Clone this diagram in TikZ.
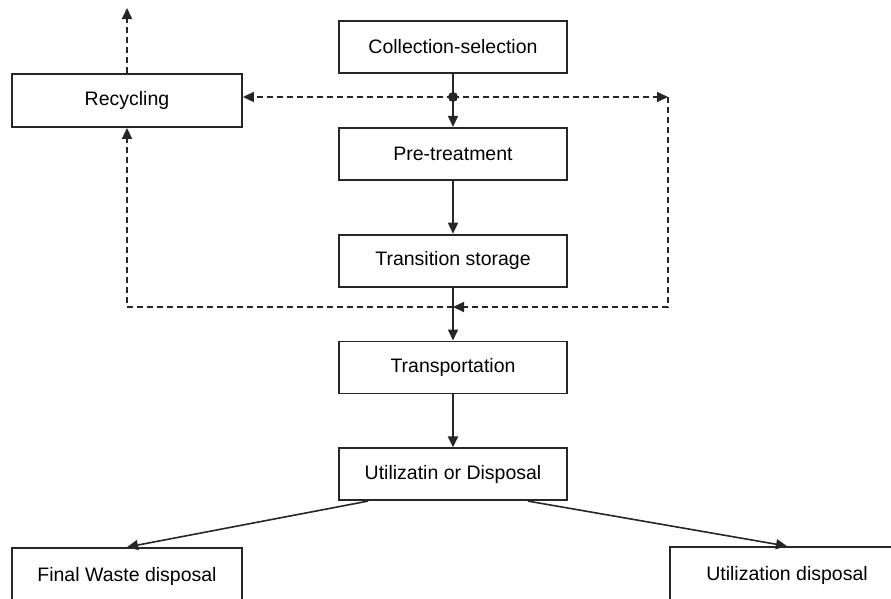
\documentclass[tikz,border=0pt]{standalone}
\usepackage{fontspec}
\setmainfont{Liberation Sans}
\usetikzlibrary{arrows.meta, positioning}

\begin{document}
\begin{tikzpicture}[
    x=1pt, y=-1pt,
    node distance=53pt,
    box/.style={rectangle, draw=black!85, line width=1.8pt, minimum width=228pt,
                minimum height=52pt, inner sep=0pt, align=center,
                font=\fontsize{19.5}{22}\selectfont},
    arr/.style={draw=black!85, line width=1.6pt, -{Triangle[length=11pt,width=10pt]}},
    dasharr/.style={draw=black!85, line width=1.8pt, dash pattern=on 6pt off 4pt,
                    -{Triangle[length=11pt,width=10pt]}}
  ]
  \useasboundingbox (0,0) rectangle (891,598);
  % Nodes
  \node[box] (coll) at (453,47) {Collection-selection};
  \node[box, below=of coll] (pre) {Pre-treatment};
  \node[box, below=of pre] (trans) {Transition storage};
  \node[box, below=of trans] (transp) {Transportation};
  \node[box, below=of transp] (util) {Utilizatin or Disposal};

  \node[box, minimum width=230pt, minimum height=53pt] (recyc) at (127,100.5) {Recycling};
  \node[box, minimum width=230pt, minimum height=56pt] (final) at (127,576) {Final Waste disposal};
  \node[box, minimum width=234pt, minimum height=56pt] (udisp) at (787,575) {Utilization disposal};

  % Branch points
  \coordinate (dot) at (453,97);
  \coordinate (ne) at (668,97);
  \coordinate (se) at (668,307);
  \coordinate (mid) at (453,307);
  \coordinate (top) at (127,8);

  % Dashed return paths
  \draw[dasharr] (dot) -- (dot -| recyc.east);
  \draw[dasharr] (dot) -- (ne);
  \draw[dasharr] (ne) -- (se) -- (mid);
  \draw[dasharr] (mid) -- (recyc.south |- mid) -- (recyc.south);
  \draw[dasharr] (recyc.north) -- (top);

  % Arrows
  \draw[arr] (coll) -- (pre);
  \draw[arr] (pre) -- (trans);
  \draw[arr] (trans) -- (transp);
  \draw[arr, line width=2.8pt] (transp) -- (util);
  \draw[arr] ([xshift=-85pt]util.south) -- (final.north);
  \draw[arr] ([xshift=75pt]util.south) -- (udisp.north);
  \fill[black!85] (dot) circle (5pt);
\end{tikzpicture}
\end{document}
